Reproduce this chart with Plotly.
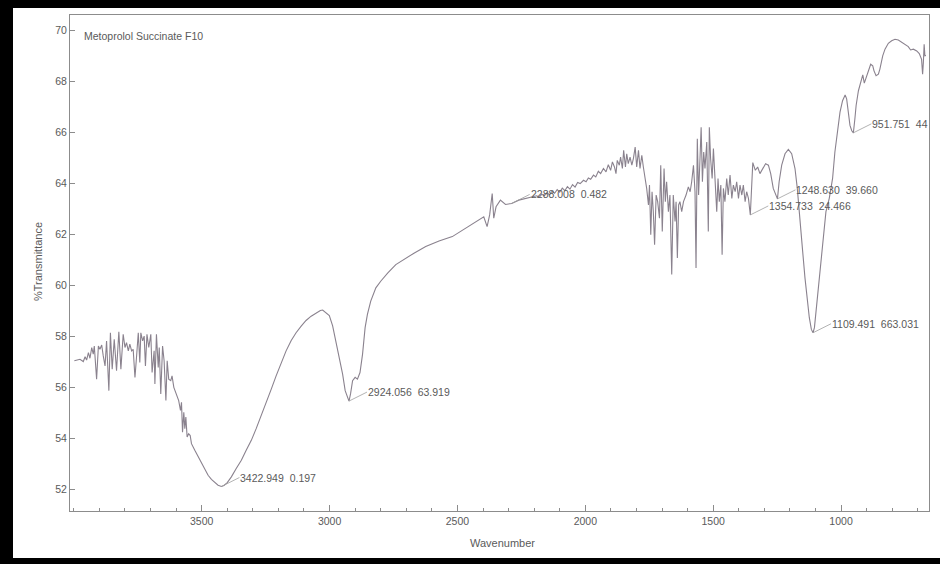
import numpy as np
import plotly.graph_objects as go

# FTIR spectrum: wavenumber (cm-1) and %Transmittance
wavenumber = [
    3998, 3988, 3976, 3963, 3956, 3950, 3943, 3937, 3930, 3924, 3920, 3911, 3904, 3898,
    3891, 3885, 3878, 3872, 3863, 3857, 3850, 3842, 3833, 3824, 3816, 3807, 3800, 3794,
    3787, 3781, 3774, 3768, 3761, 3755, 3748, 3742, 3738, 3731, 3725, 3720, 3714, 3707,
    3699, 3694, 3686, 3683, 3677, 3670, 3666, 3660, 3653, 3647, 3640, 3635, 3629, 3621,
    3616, 3609, 3601, 3595, 3590, 3583, 3579, 3575, 3570, 3566, 3562, 3557, 3551, 3545,
    3540, 3527, 3514, 3501, 3488, 3475, 3462, 3449, 3436, 3422.949, 3413, 3400, 3384,
    3365, 3345, 3326, 3306, 3287, 3267, 3248, 3228, 3209, 3189, 3170, 3150, 3131, 3111,
    3092, 3072, 3053, 3036, 3027, 3014, 3001, 2988, 2975, 2962, 2949, 2939, 2924.056,
    2918, 2910, 2900, 2891, 2881, 2871, 2861, 2852, 2839, 2819, 2800, 2773, 2741, 2702,
    2670, 2624, 2572, 2520, 2468, 2429, 2397, 2384, 2374, 2364, 2358, 2349, 2332, 2312,
    2288.008, 2260, 2230, 2208, 2190, 2180, 2170, 2160, 2150, 2140, 2130, 2120, 2110,
    2100, 2090, 2080, 2070, 2060, 2050, 2040, 2030, 2020, 2007, 1997, 1988, 1979, 1968,
    1959, 1949, 1940, 1929, 1919, 1910, 1901, 1894, 1886, 1880, 1875, 1867, 1862, 1855,
    1850, 1843, 1838, 1832, 1825, 1818, 1812, 1805, 1799, 1792, 1786, 1779, 1773, 1766,
    1760, 1753, 1749, 1744, 1739, 1734, 1729, 1723, 1717, 1710, 1705, 1699, 1692, 1687,
    1682, 1675, 1669, 1662, 1656, 1649, 1645, 1640, 1635, 1630, 1623, 1616, 1606, 1597,
    1590, 1584, 1577, 1571, 1567, 1562, 1557, 1551, 1547, 1542, 1537, 1532, 1525, 1519,
    1515, 1510, 1504, 1499, 1493, 1486, 1481, 1476, 1470, 1465, 1460, 1454, 1447, 1441,
    1434, 1427, 1421, 1414, 1408, 1401, 1395, 1388, 1382, 1375, 1369, 1362, 1354.733,
    1345, 1335, 1326, 1317, 1306, 1295, 1284, 1275, 1265, 1257, 1248.630, 1242, 1232,
    1219, 1206, 1193, 1180, 1171, 1160, 1150, 1141, 1132, 1124, 1116, 1109.491, 1104,
    1095, 1085, 1072, 1059, 1046, 1033, 1024, 1013, 1004, 994, 984, 978, 971, 965, 958,
    951.751, 946, 941, 932, 923, 915, 909, 902, 893, 884, 876, 871, 863, 854, 848, 837,
    828, 815, 802, 789, 776, 763, 750, 737, 728, 717, 704, 694, 685, 681, 678, 675, 672,
    668,
]
transmittance = [
    57.03, 57.06, 57.09, 57.00, 57.19, 57.06, 57.35, 57.13, 57.55, 57.29, 57.61, 56.31, 57.61, 57.48,
    57.65, 57.22, 56.83, 57.81, 55.86, 58.13, 56.70, 57.87, 56.64, 58.17, 56.70, 58.07, 57.55, 57.74,
    57.42, 57.68, 57.42, 57.48, 56.38, 57.16, 58.13, 56.96, 58.13, 57.81, 58.00, 56.83, 58.07, 57.55,
    58.07, 56.57, 57.42, 56.12, 58.07, 56.77, 57.55, 55.73, 57.61, 57.03, 55.47, 57.03, 56.31, 56.25,
    56.44, 55.99, 55.73, 55.60, 55.47, 55.08, 55.40, 54.23, 55.01, 54.37, 54.82, 54.04, 54.17, 54.10,
    53.78, 53.52, 53.26, 53.00, 52.74, 52.54, 52.38, 52.25, 52.15, 52.10, 52.14, 52.25, 52.48,
    52.81, 53.13, 53.52, 53.91, 54.37, 54.88, 55.40, 55.92, 56.44, 56.96, 57.42, 57.83, 58.13, 58.39,
    58.61, 58.78, 58.90, 59.00, 59.02, 58.92, 58.80, 58.40, 57.81, 57.16, 56.51, 55.86, 55.45,
    55.73, 56.25, 56.38, 56.31, 56.57, 57.29, 58.33, 58.85, 59.37, 59.89, 60.15, 60.47, 60.80, 61.06,
    61.25, 61.51, 61.73, 61.90, 62.23, 62.51, 62.68, 62.29, 62.75, 63.59, 62.62, 63.07, 63.33, 63.16,
    63.20, 63.33, 63.40, 63.46, 63.50, 63.44, 63.56, 63.50, 63.62, 63.54, 63.68, 63.60, 63.74,
    63.64, 63.80, 63.70, 63.86, 63.76, 63.94, 63.84, 64.02, 63.98, 64.11, 64.05, 64.20, 64.15, 64.31,
    64.24, 64.46, 64.37, 64.57, 64.44, 64.72, 64.50, 64.83, 64.63, 64.37, 64.89, 64.70, 65.02, 64.57,
    65.28, 64.63, 65.15, 64.76, 65.02, 64.70, 64.96, 65.41, 64.63, 65.28, 64.57, 65.09, 64.63, 64.18,
    63.79, 63.14, 63.92, 61.97, 63.66, 62.88, 61.58, 63.53, 63.27, 62.62, 64.70, 62.10, 64.57, 63.27,
    64.05, 62.88, 63.53, 60.41, 63.53, 62.49, 63.27, 61.06, 63.14, 63.27, 62.88, 63.27, 63.53, 63.85,
    63.66, 64.05, 64.70, 63.66, 60.67, 65.74, 63.53, 65.09, 66.19, 64.05, 65.22, 64.57, 65.61, 62.10,
    66.19, 64.96, 64.18, 65.35, 63.92, 62.88, 64.18, 63.27, 63.92, 61.19, 63.79, 63.27, 64.18, 63.53,
    64.31, 63.40, 63.92, 63.66, 64.05, 63.40, 63.92, 63.53, 63.92, 63.27, 63.66, 63.40, 62.75,
    64.80, 64.50, 64.63, 64.37, 64.57, 64.76, 64.70, 64.37, 63.79, 63.55, 63.38, 64.05, 64.70,
    65.15, 65.32, 65.15, 64.57, 63.79, 62.62, 61.32, 60.28, 59.37, 58.72, 58.26, 58.13, 58.33,
    59.24, 60.54, 61.84, 62.88, 63.40, 64.18, 65.22, 66.13, 66.78, 67.23, 67.45, 67.30, 66.78, 66.26, 66.05,
    65.97, 66.50, 67.04, 67.62, 67.98, 68.24, 67.92, 68.14, 68.47, 68.66, 68.60, 68.40, 68.21, 68.27, 68.47, 68.99,
    69.25, 69.48, 69.58, 69.64, 69.61, 69.53, 69.44, 69.35, 69.22, 69.25, 69.18, 69.08, 68.85, 68.27, 68.73, 69.44, 68.99,
    69.00,
]

# Picked peaks and their printed labels
peak_wn = [3422.949, 2924.056, 2288.008, 1354.733, 1248.630, 1109.491, 951.751]
peak_labels = [
    "3422.949  0.197",
    "2924.056  63.919",
    "2288.008  0.482",
    "1354.733  24.466",
    "1248.630  39.660",
    "1109.491  663.031",
    "951.751  44",
]

x_ticks = [3500, 3000, 2500, 2000, 1500, 1000]
y_ticks = [52, 54, 56, 58, 60, 62, 64, 66, 68, 70]

W, H = 940, 564
L, R, T, B = 70, 11, 15, 53
PW, PH = W - L - R, H - T - B

FONT = "Liberation Sans, Arial, sans-serif"
LINE_C = "#8c8c8c"
TEXT_C = "#5a5a5a"
TRACE_C = "#8a828e"


def px_x(p):
    return (p - L) / PW


def px_y(p):
    return (H - B - p) / PH


fig = go.Figure()
fig.add_trace(go.Scatter(
    x=wavenumber, y=transmittance, mode="lines",
    line=dict(color=TRACE_C, width=1.1), hoverinfo="skip", showlegend=False,
))

wn_sorted = np.array(wavenumber)[::-1]
tr_sorted = np.array(transmittance)[::-1]

annotations = []
for wn, label in zip(peak_wn, peak_labels):
    t = float(np.interp(wn, wn_sorted, tr_sorted))
    annotations.append(dict(
        x=wn, y=t, xref="x", yref="y", text=label.replace(" ", "\u00a0"),
        showarrow=True, arrowhead=0, arrowwidth=0.8, arrowcolor="#a0a0a0",
        ax=18, ay=-9, xanchor="left", yanchor="middle",
        font=dict(family=FONT, size=10.5, color=TEXT_C), borderpad=0,
    ))

annotations += [
    dict(text="Metoprolol Succinate F10", xref="paper", yref="paper",
         x=px_x(82), y=px_y(36), xanchor="left", yanchor="middle", showarrow=False,
         font=dict(family=FONT, size=10.5, color=TEXT_C)),
    dict(text="%Transmittance", xref="paper", yref="paper", textangle=-90,
         x=px_x(38), y=px_y(262), xanchor="center", yanchor="middle", showarrow=False,
         font=dict(family=FONT, size=11, color=TEXT_C)),
    dict(text="Wavenumber", xref="paper", yref="paper",
         x=px_x(502), y=px_y(543), xanchor="center", yanchor="middle", showarrow=False,
         font=dict(family=FONT, size=11, color=TEXT_C)),
]

# Dark frame around the page
shapes = []
for x0, y0, x1, y1 in [(0, 0, W, 8), (0, 0, 13, H), (0, 558, W, H)]:
    shapes.append(dict(type="rect", xref="paper", yref="paper",
                       x0=px_x(x0), x1=px_x(x1), y0=px_y(y1), y1=px_y(y0),
                       fillcolor="black", line=dict(width=0), layer="above"))

fig.update_layout(
    width=W, height=H,
    margin=dict(l=L, r=R, t=T, b=B),
    paper_bgcolor="white", plot_bgcolor="white",
    font=dict(family=FONT, size=10.5, color=TEXT_C),
    annotations=annotations, shapes=shapes,
    xaxis=dict(
        range=[4015, 656], tickvals=x_ticks, ticks="inside", ticklen=6,
        tickcolor=LINE_C, showline=True, linecolor=LINE_C, linewidth=1, mirror=True,
        showgrid=False, zeroline=False,
        minor=dict(dtick=100, tick0=0, ticks="inside", ticklen=3, tickcolor=LINE_C, showgrid=False),
        tickfont=dict(family=FONT, size=10.5, color=TEXT_C),
    ),
    yaxis=dict(
        range=[51.14, 70.59], tickvals=y_ticks, ticks="inside", ticklen=5,
        tickcolor=LINE_C, showline=True, linecolor=LINE_C, linewidth=1, mirror=True,
        showgrid=False, zeroline=False,
        tickfont=dict(family=FONT, size=10.5, color=TEXT_C),
    ),
)

fig.write_html("out.html")
